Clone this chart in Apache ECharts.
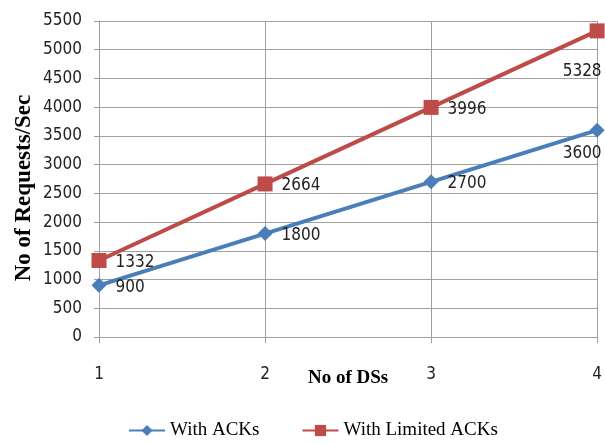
<!DOCTYPE html>
<html><head><meta charset="utf-8">
<script src="https://cdn.jsdelivr.net/npm/echarts@6/dist/echarts.min.js"></script>
<style>html,body{margin:0;padding:0;background:#fff}#c{width:605px;height:443px}</style>
</head><body><div id="c"></div>
<script>
var categories = ['1', '2', '3', '4'];
var withAcks = [900, 1800, 2700, 3600];
var withLimitedAcks = [1332, 2664, 3996, 5328];
var seriesNames = ['With ACKs', 'With Limited ACKs'];
var xTitle = 'No of DSs';
var yTitle = 'No of Requests/Sec';

var numFont = "'DejaVu Sans Condensed', 'Liberation Sans Narrow', sans-serif";
var serif = "'Liberation Serif', 'Times New Roman', serif";

function mk(vals, lastOffset) {
  return vals.map(function (v, i) {
    if (i === vals.length - 1) {
      return { value: v, label: { position: 'bottom', offset: lastOffset } };
    }
    return v;
  });
}

var chart = echarts.init(document.getElementById('c'), null, { renderer: 'canvas' });
chart.setOption({
  animation: false,
  grid: { left: 99, right: 6, top: 21, bottom: 106 },
  xAxis: {
    type: 'category', data: categories, boundaryGap: false,
    name: xTitle, nameLocation: 'middle', nameGap: 32, nameMoveOverlap: false,
    nameTextStyle: { fontFamily: serif, fontWeight: 'bold', fontSize: 19, color: '#000', verticalAlign: 'top' },
    axisLine: { lineStyle: { color: '#a0a0a0', width: 1 } },
    axisTick: { show: true, length: 6, alignWithLabel: true, lineStyle: { color: '#a0a0a0' } },
    axisLabel: { margin: 29, fontFamily: numFont, fontSize: 17, color: '#222' },
    splitLine: { show: true, lineStyle: { color: '#a0a0a0', width: 1 } }
  },
  yAxis: {
    type: 'value', min: 0, max: 5500, interval: 500,
    axisLine: { show: true, lineStyle: { color: '#a0a0a0', width: 1 } },
    axisTick: { show: true, length: 5, lineStyle: { color: '#a0a0a0' } },
    axisLabel: { margin: 17, fontFamily: numFont, fontSize: 17, color: '#222', formatter: function (v) { return String(v); } },
    splitLine: { show: true, lineStyle: { color: '#a0a0a0', width: 1 } }
  },
  legend: {
    top: 416, left: 123, itemWidth: 36, itemHeight: 14, itemGap: 42,
    textStyle: { fontFamily: serif, fontSize: 19, color: '#000' },
    data: seriesNames
  },
  graphic: [{
    type: 'text', x: 24, y: 188, rotation: Math.PI / 2,
    style: { text: yTitle, font: "bold 23px 'Liberation Serif', serif", fill: '#000', align: 'center', verticalAlign: 'middle' }
  }],
  series: [{
    name: seriesNames[0], type: 'line', data: mk(withAcks, [-15, -2]),
    symbol: 'diamond', symbolSize: 15,
    lineStyle: { color: '#4a7ebb', width: 4 },
    itemStyle: { color: '#4a7ebb' },
    label: { show: true, position: 'right', distance: 9, offset: [0, 2], fontFamily: numFont, fontSize: 17, color: '#222' }
  }, {
    name: seriesNames[1], type: 'line', data: mk(withLimitedAcks, [-15, 16]),
    symbol: 'rect', symbolSize: 15,
    lineStyle: { color: '#be4b48', width: 4 },
    itemStyle: { color: '#be4b48' },
    label: { show: true, position: 'right', distance: 9, offset: [0, 2], fontFamily: numFont, fontSize: 17, color: '#222' }
  }]
});
</script></body></html>
